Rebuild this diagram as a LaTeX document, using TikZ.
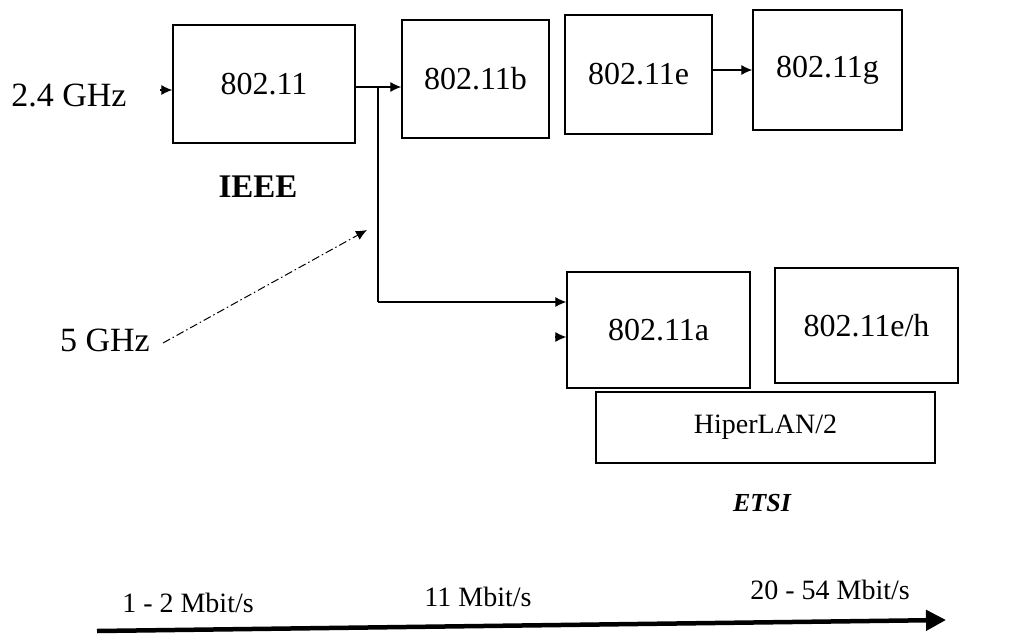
\documentclass[tikz,border=0pt]{standalone}
\usepackage{fontspec}
\setmainfont{Liberation Serif}
\usetikzlibrary{arrows.meta}
\begin{document}
\begin{tikzpicture}[x=1pt,y=-1pt,
  stdbox/.style={draw,line width=1.3pt,inner sep=0pt,font=\fontsize{32}{38}\selectfont},
  lbl/.style={inner sep=0pt,anchor=center},
  conn/.style={line width=1.2pt,-{Latex[length=11pt,width=10pt]}},
  plain/.style={line width=1.2pt}]
\useasboundingbox (0,0) rectangle (1027,634);
% boxes
\node[stdbox,minimum width=182pt,minimum height=118pt] (b1) at (264,84) {802.11};
\node[stdbox,minimum width=147pt,minimum height=118pt] (b2) at (475.5,79) {802.11b};
\node[stdbox,minimum width=147pt,minimum height=119pt] (b3) at (638.5,74.5) {802.11e};
\node[stdbox,minimum width=149pt,minimum height=120pt] (b4) at (827.5,70) {802.11g};
\node[stdbox,minimum width=183pt,minimum height=116pt] (ba) at (658.5,330) {802.11a};
\node[stdbox,minimum width=183pt,minimum height=115pt] (beh) at (866.5,325.5) {802.11e/h};
\node[stdbox,minimum width=339pt,minimum height=71pt,font=\fontsize{28}{32}\selectfont] (hl) at (765.5,427.5) {HiperLAN/2};
% labels
\node[lbl,font=\fontsize{34}{40}\selectfont] (g24) at (69,95) {2.4 GHz};
\node[lbl,font=\fontsize{34}{40}\selectfont] (g5) at (105,340) {5 GHz};
\node[lbl,font=\fontsize{33}{38}\selectfont\bfseries] (ieee) at (258,187) {IEEE};
\node[lbl,font=\fontsize{26}{30}\selectfont\bfseries\itshape] (etsi) at (762,503) {ETSI};
\node[lbl,font=\fontsize{28}{32}\selectfont] (r1) at (188,603) {1 - 2 Mbit/s};
\node[lbl,font=\fontsize{28}{32}\selectfont] (r2) at (478,597) {11 Mbit/s};
\node[lbl,font=\fontsize{28}{32}\selectfont] (r3) at (830,590) {20 - 54 Mbit/s};
% coordinates
\coordinate (c24) at (160,90);
\coordinate (j) at (378,87);
\coordinate (k) at (378,302);
\coordinate (m) at (555,337);
\coordinate (eg) at (712,70);
\coordinate (d0) at (163,343);
\coordinate (d1) at (367,230);
\coordinate (s0) at (97,631);
\coordinate (s1) at (946,620);
% connectors
\draw[conn] (c24) -- (c24 -| b1.west);
\draw[conn] (j -| b1.east) -- (j -| b2.west);
\draw[plain] (j) -- (k);
\draw[conn] (k) -- (k -| ba.west);
\draw[conn] (m) -- (m -| ba.west);
\draw[conn] (eg -| b3.east) -- (eg -| b4.west);
\draw[line width=1pt,dash pattern=on 8pt off 3pt on 1.5pt off 3pt,-{Latex[length=11pt,width=10pt]}] (d0) -- (d1);
\draw[line width=4.5pt,-{Triangle[length=20pt,width=20pt]}] (s0) -- (s1);
\end{tikzpicture}
\end{document}
